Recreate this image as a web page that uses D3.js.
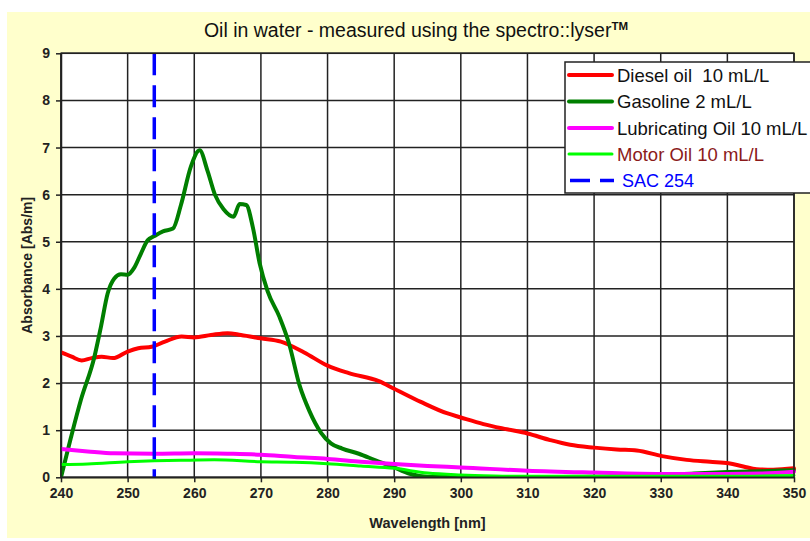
<!DOCTYPE html>
<html><head><meta charset="utf-8">
<script src="https://cdn.jsdelivr.net/npm/d3@7"></script>
<style>body{margin:0;background:#fff}svg{display:block}text{font-family:"Liberation Sans",Arial,sans-serif}</style>
</head><body><svg id="c" width="810" height="541"></svg>
<script>
const xTicks = [240,250,260,270,280,290,300,310,320,330,340,350];
const yTicks = [0,1,2,3,4,5,6,7,8,9];
const sacWavelength = 254;

const dieselX = [240,241.6,243.1,244.6,246.1,247.8,250,251.6,253.6,255.6,258.1,260,262.5,265,267,270,273,276.5,280,283.2,287.7,290,294,297.9,300,303.4,306.9,310,313.4,316.4,320,323.4,326.4,330.2,333.9,337.4,340.2,342.4,344.4,346.9,350];
const dieselY = [2.65,2.56,2.48,2.53,2.56,2.53,2.67,2.74,2.77,2.88,2.99,2.97,3.02,3.06,3.02,2.95,2.88,2.65,2.37,2.21,2.04,1.88,1.6,1.36,1.27,1.13,1.02,0.93,0.79,0.69,0.63,0.59,0.57,0.45,0.37,0.33,0.30,0.23,0.17,0.16,0.19];

const gasolineX = [240,241.5,243,245,246,247,248,249,250,251,252,253,254,255.3,256.8,258,259.5,260.8,262,263.1,264.4,265.9,266.8,267.8,268.8,269.8,271,272.8,274.2,275.8,277.3,279,280.5,282.2,284.7,287.2,289.8,292.2,295,300,310,320,330,335,340,345,350];
const gasolineY = [0,0.85,1.65,2.55,3.2,3.9,4.22,4.31,4.3,4.45,4.75,5.03,5.12,5.22,5.28,5.78,6.6,6.94,6.5,6.0,5.69,5.53,5.80,5.78,5.30,4.55,3.95,3.40,2.85,1.95,1.40,0.95,0.72,0.61,0.50,0.36,0.22,0.08,0.01,0,0,0.01,0.04,0.08,0.11,0.13,0.15];

const lubricatingX = [240,244,248,254,260,265,270,275,280,285,290,295,300,310,320,330,340,345,350];
const lubricatingY = [0.60,0.55,0.51,0.50,0.51,0.50,0.48,0.43,0.39,0.33,0.28,0.24,0.21,0.14,0.10,0.07,0.07,0.08,0.12];

const motorX = [240,244,250,254,258,263,270,275,280,285,290,295,300,305,310,320,330,340,350];
const motorY = [0.27,0.28,0.33,0.35,0.36,0.37,0.33,0.32,0.29,0.24,0.19,0.09,0.05,0.03,0.02,0.02,0.02,0.02,0.04];

const seriesNames = ["Diesel oil\u00a0 10 mL/L","Gasoline 2 mL/L","Lubricating Oil 10 mL/L","Motor Oil 10 mL/L"];
const seriesColors = ["#ff0000","#007f00","#ff00ff","#00ff00"];
const seriesTextColors = ["#111","#111","#111","#8b1a1a"];
const sacLabel = "SAC 254";

const svg = d3.select("#c");
svg.append("rect").attr("x",7).attr("y",12).attr("width",830).attr("height",526).attr("fill","#ffffcc");

const L=61,R=794,T=53.3,B=477.3;
const x = d3.scaleLinear().domain([240,350]).range([L,R]);
const y = d3.scaleLinear().domain([0,9]).range([B,T]);

svg.append("rect").attr("x",L).attr("y",T).attr("width",R-L).attr("height",B-T).attr("fill","#fff");

const g = svg.append("g");
g.selectAll(".vx").data(xTicks).join("line").attr("x1",d=>x(d)).attr("x2",d=>x(d)).attr("y1",T).attr("y2",B).attr("stroke","#222").attr("stroke-width",1.5);
g.selectAll(".hy").data(yTicks).join("line").attr("y1",d=>y(d)).attr("y2",d=>y(d)).attr("x1",L).attr("x2",R).attr("stroke","#222").attr("stroke-width",1.5);

const xa = svg.append("g").attr("transform",`translate(0,${B})`).call(d3.axisBottom(x).tickValues(xTicks).tickSize(5).tickSizeOuter(0).tickPadding(6).tickFormat(d3.format("d")));
const ya = svg.append("g").attr("transform",`translate(${L},0)`).call(d3.axisLeft(y).tickValues(yTicks).tickSize(5).tickSizeOuter(0).tickPadding(6).tickFormat(d3.format("d")));
[xa,ya].forEach(a=>{a.select(".domain").attr("stroke","#222").attr("stroke-width",1.5);a.selectAll(".tick line").attr("stroke","#222").attr("stroke-width",1.5);a.selectAll("text").attr("font-size",14).attr("font-weight","bold").attr("fill","#222").attr("font-family","Liberation Sans, Arial, sans-serif");});

svg.append("clipPath").attr("id","cp").append("rect").attr("x",L).attr("y",T-4).attr("width",R-L+3).attr("height",B-T+4);

const series = [
  {xs:dieselX,ys:dieselY,w:4},
  {xs:gasolineX,ys:gasolineY,w:4},
  {xs:lubricatingX,ys:lubricatingY,w:4},
  {xs:motorX,ys:motorY,w:3}
];
const line = d3.line().x(d=>x(d[0])).y(d=>y(d[1])).curve(d3.curveMonotoneX);
const pg = svg.append("g").attr("clip-path","url(#cp)");
series.forEach((s,i)=>{
  const pts = s.xs.map((v,j)=>[v,s.ys[j]]);
  pg.append("path").attr("d",line(pts)).attr("fill","none").attr("stroke",seriesColors[i]).attr("stroke-width",s.w).attr("stroke-linejoin","round").attr("stroke-linecap","round");
});
pg.append("line").attr("x1",x(sacWavelength)).attr("x2",x(sacWavelength)).attr("y1",y(9)).attr("y2",y(0)).attr("stroke","#0000ff").attr("stroke-width",3.5).attr("stroke-dasharray","22,10");

svg.append("rect").attr("x",L).attr("y",T).attr("width",R-L).attr("height",B-T).attr("fill","none").attr("stroke","#222").attr("stroke-width",1.5);

const tt = svg.append("text").attr("x",416).attr("y",37).attr("text-anchor","middle").attr("font-size",19.5).attr("fill","#111");
tt.append("tspan").text("Oil in water - measured using the spectro::lyser");
tt.append("tspan").text("TM").attr("font-size",11.5).attr("font-weight","bold").attr("dy",-7);

svg.append("text").attr("x",(L+R)/2).attr("y",528).attr("text-anchor","middle").attr("font-size",14.5).attr("font-weight","bold").attr("fill","#222").text("Wavelength [nm]");
svg.append("text").attr("transform",`translate(32,${(T+B)/2}) rotate(-90)`).attr("text-anchor","middle").attr("font-size",14).attr("font-weight","bold").attr("fill","#222").text("Absorbance [Abs/m]");

const lg = svg.append("g");
lg.append("rect").attr("x",565).attr("y",62).attr("width",300).attr("height",131).attr("fill","#fff").attr("stroke","#222").attr("stroke-width",1.5);
const ly = [75,101.5,128,154,180.5];
seriesNames.forEach((n,i)=>{
  lg.append("line").attr("x1",569).attr("x2",612).attr("y1",ly[i]).attr("y2",ly[i]).attr("stroke",seriesColors[i]).attr("stroke-width",i===3?3:4).attr("stroke-linecap","round");
  lg.append("text").attr("x",617).attr("y",ly[i]+6.5).attr("font-size",18.5).attr("fill",seriesTextColors[i]).text(n);
});
lg.append("line").attr("x1",570).attr("x2",614).attr("y1",ly[4]).attr("y2",ly[4]).attr("stroke","#0000ff").attr("stroke-width",3.5).attr("stroke-dasharray","20,10");
lg.append("text").attr("x",622).attr("y",ly[4]+6.5).attr("font-size",18).attr("fill","#0000ff").text(sacLabel);
</script></body></html>
